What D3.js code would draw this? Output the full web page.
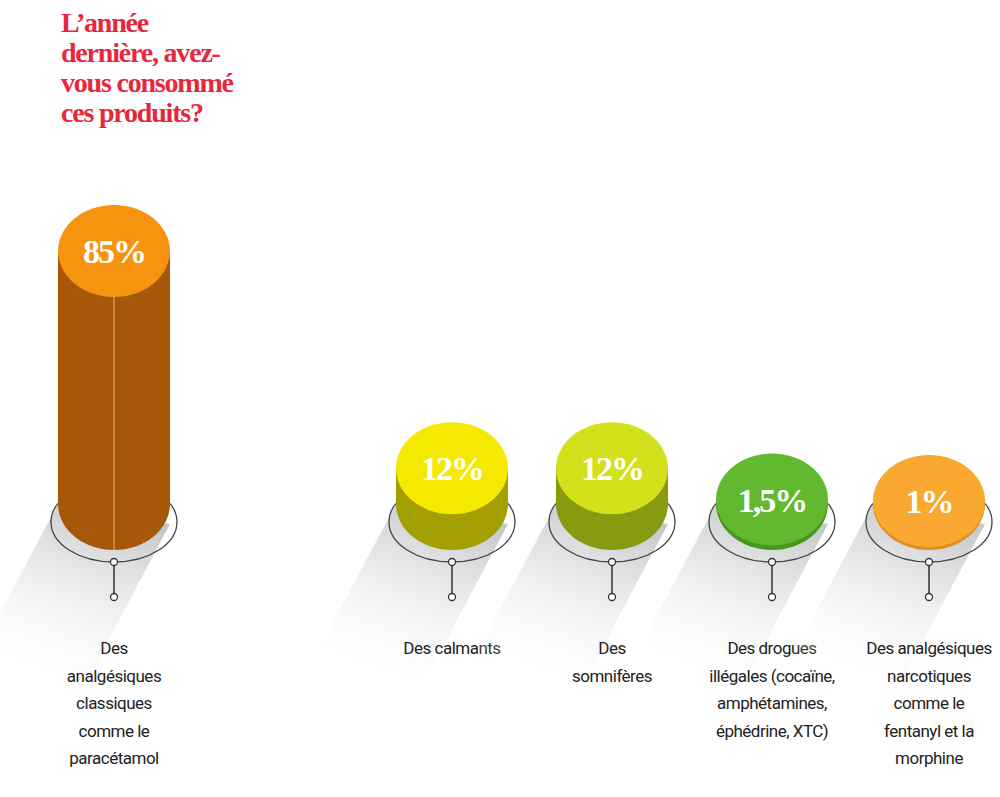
<!DOCTYPE html>
<html><head><meta charset="utf-8">
<script src="https://cdn.jsdelivr.net/npm/d3@7"></script>
<style>body{margin:0;background:#fff}</style></head>
<body><svg id="c" width="1000" height="797"></svg>
<script>
const categories = [
  ["Des","analgésiques","classiques","comme le","paracétamol"],
  ["Des calmants"],
  ["Des","somnifères"],
  ["Des drogues","illégales (cocaïne,","amphétamines,","éphédrine, XTC)"],
  ["Des analgésiques","narcotiques","comme le","fentanyl et la","morphine"]
];
const values = [85, 12, 12, 1.5, 1];
const valueLabels = ["85%","12%","12%","1,5%","1%"];
const topColors = ["#F7940F","#F5E900","#D2E11B","#62B82E","#F9A830"];
const sideColors = ["#A65808","#A39F00","#879A10","#49961E","#E08E1E"];
const titleLines = ["L’année","dernière, avez-","vous consommé","ces produits?"];

const svg = d3.select("#c");
const positions = [114, 452, 612, 772, 929];
const h = d3.scaleLinear().domain([0, 85]).range([0, 253]);
const baseY = 504, rx = 56, ry = 46;

const defs = svg.append("defs");
const g = defs.append("linearGradient").attr("id","sh").attr("x1",0.6).attr("y1",0).attr("x2",0.2).attr("y2",1);
g.append("stop").attr("offset",0).attr("stop-color","#c6c8ca");
g.append("stop").attr("offset",1).attr("stop-color","#ffffff").attr("stop-opacity",0);

svg.selectAll("text.title").data(titleLines).join("text")
  .attr("x",61).attr("y",(d,i)=>32+i*30)
  .attr("fill","#E8273D").attr("font-family","Liberation Serif, serif")
  .attr("font-weight","bold").attr("font-size",28).attr("letter-spacing",-1.2)
  .text(d=>d);

values.forEach((v,i)=>{
  const cx = positions[i];
  const topY = baseY - h(v);
  const gr = svg.append("g");
  gr.append("path").attr("fill","url(#sh)")
    .attr("d",`M${cx-rx},${baseY} L${cx+rx},${baseY+20} L${cx+rx-85},${baseY+180} L${cx-rx-85},${baseY+160} Z`);
  gr.append("ellipse").attr("cx",cx).attr("cy",baseY+18).attr("rx",63).attr("ry",40)
    .attr("fill","none").attr("stroke","#444").attr("stroke-width",1.3);
  gr.append("path").attr("fill",sideColors[i])
    .attr("d",`M${cx-rx},${topY} L${cx-rx},${baseY} A${rx},${ry} 0 0 0 ${cx+rx},${baseY} L${cx+rx},${topY} Z`);
  if (i===0) gr.append("line").attr("x1",cx).attr("x2",cx).attr("y1",topY+ry).attr("y2",baseY+ry)
    .attr("stroke","#e8b27a").attr("stroke-width",1);
  gr.append("ellipse").attr("cx",cx).attr("cy",topY).attr("rx",rx).attr("ry",ry).attr("fill",topColors[i]);
  gr.append("text").attr("x",cx).attr("y",topY+12).attr("text-anchor","middle")
    .attr("fill","#fff").attr("font-family","Liberation Serif, serif").attr("font-weight","bold")
    .attr("font-size",34).attr("letter-spacing",-2).text(valueLabels[i]);
  gr.append("line").attr("x1",cx).attr("x2",cx).attr("y1",baseY+58).attr("y2",baseY+93).attr("stroke","#333").attr("stroke-width",1.5);
  [baseY+58, baseY+93].forEach(cy=>gr.append("circle").attr("cx",cx).attr("cy",cy).attr("r",3.5)
    .attr("fill","#fff").attr("stroke","#333").attr("stroke-width",1.3));
  gr.selectAll("text.lab").data(categories[i]).join("text").attr("class","lab")
    .attr("x",cx).attr("y",(d,j)=>654+j*27.5).attr("text-anchor","middle")
    .attr("font-family","Roboto, sans-serif").attr("font-size",17).attr("fill","#222")
    .attr("letter-spacing",-0.5).text(d=>d);
});
</script></body></html>
